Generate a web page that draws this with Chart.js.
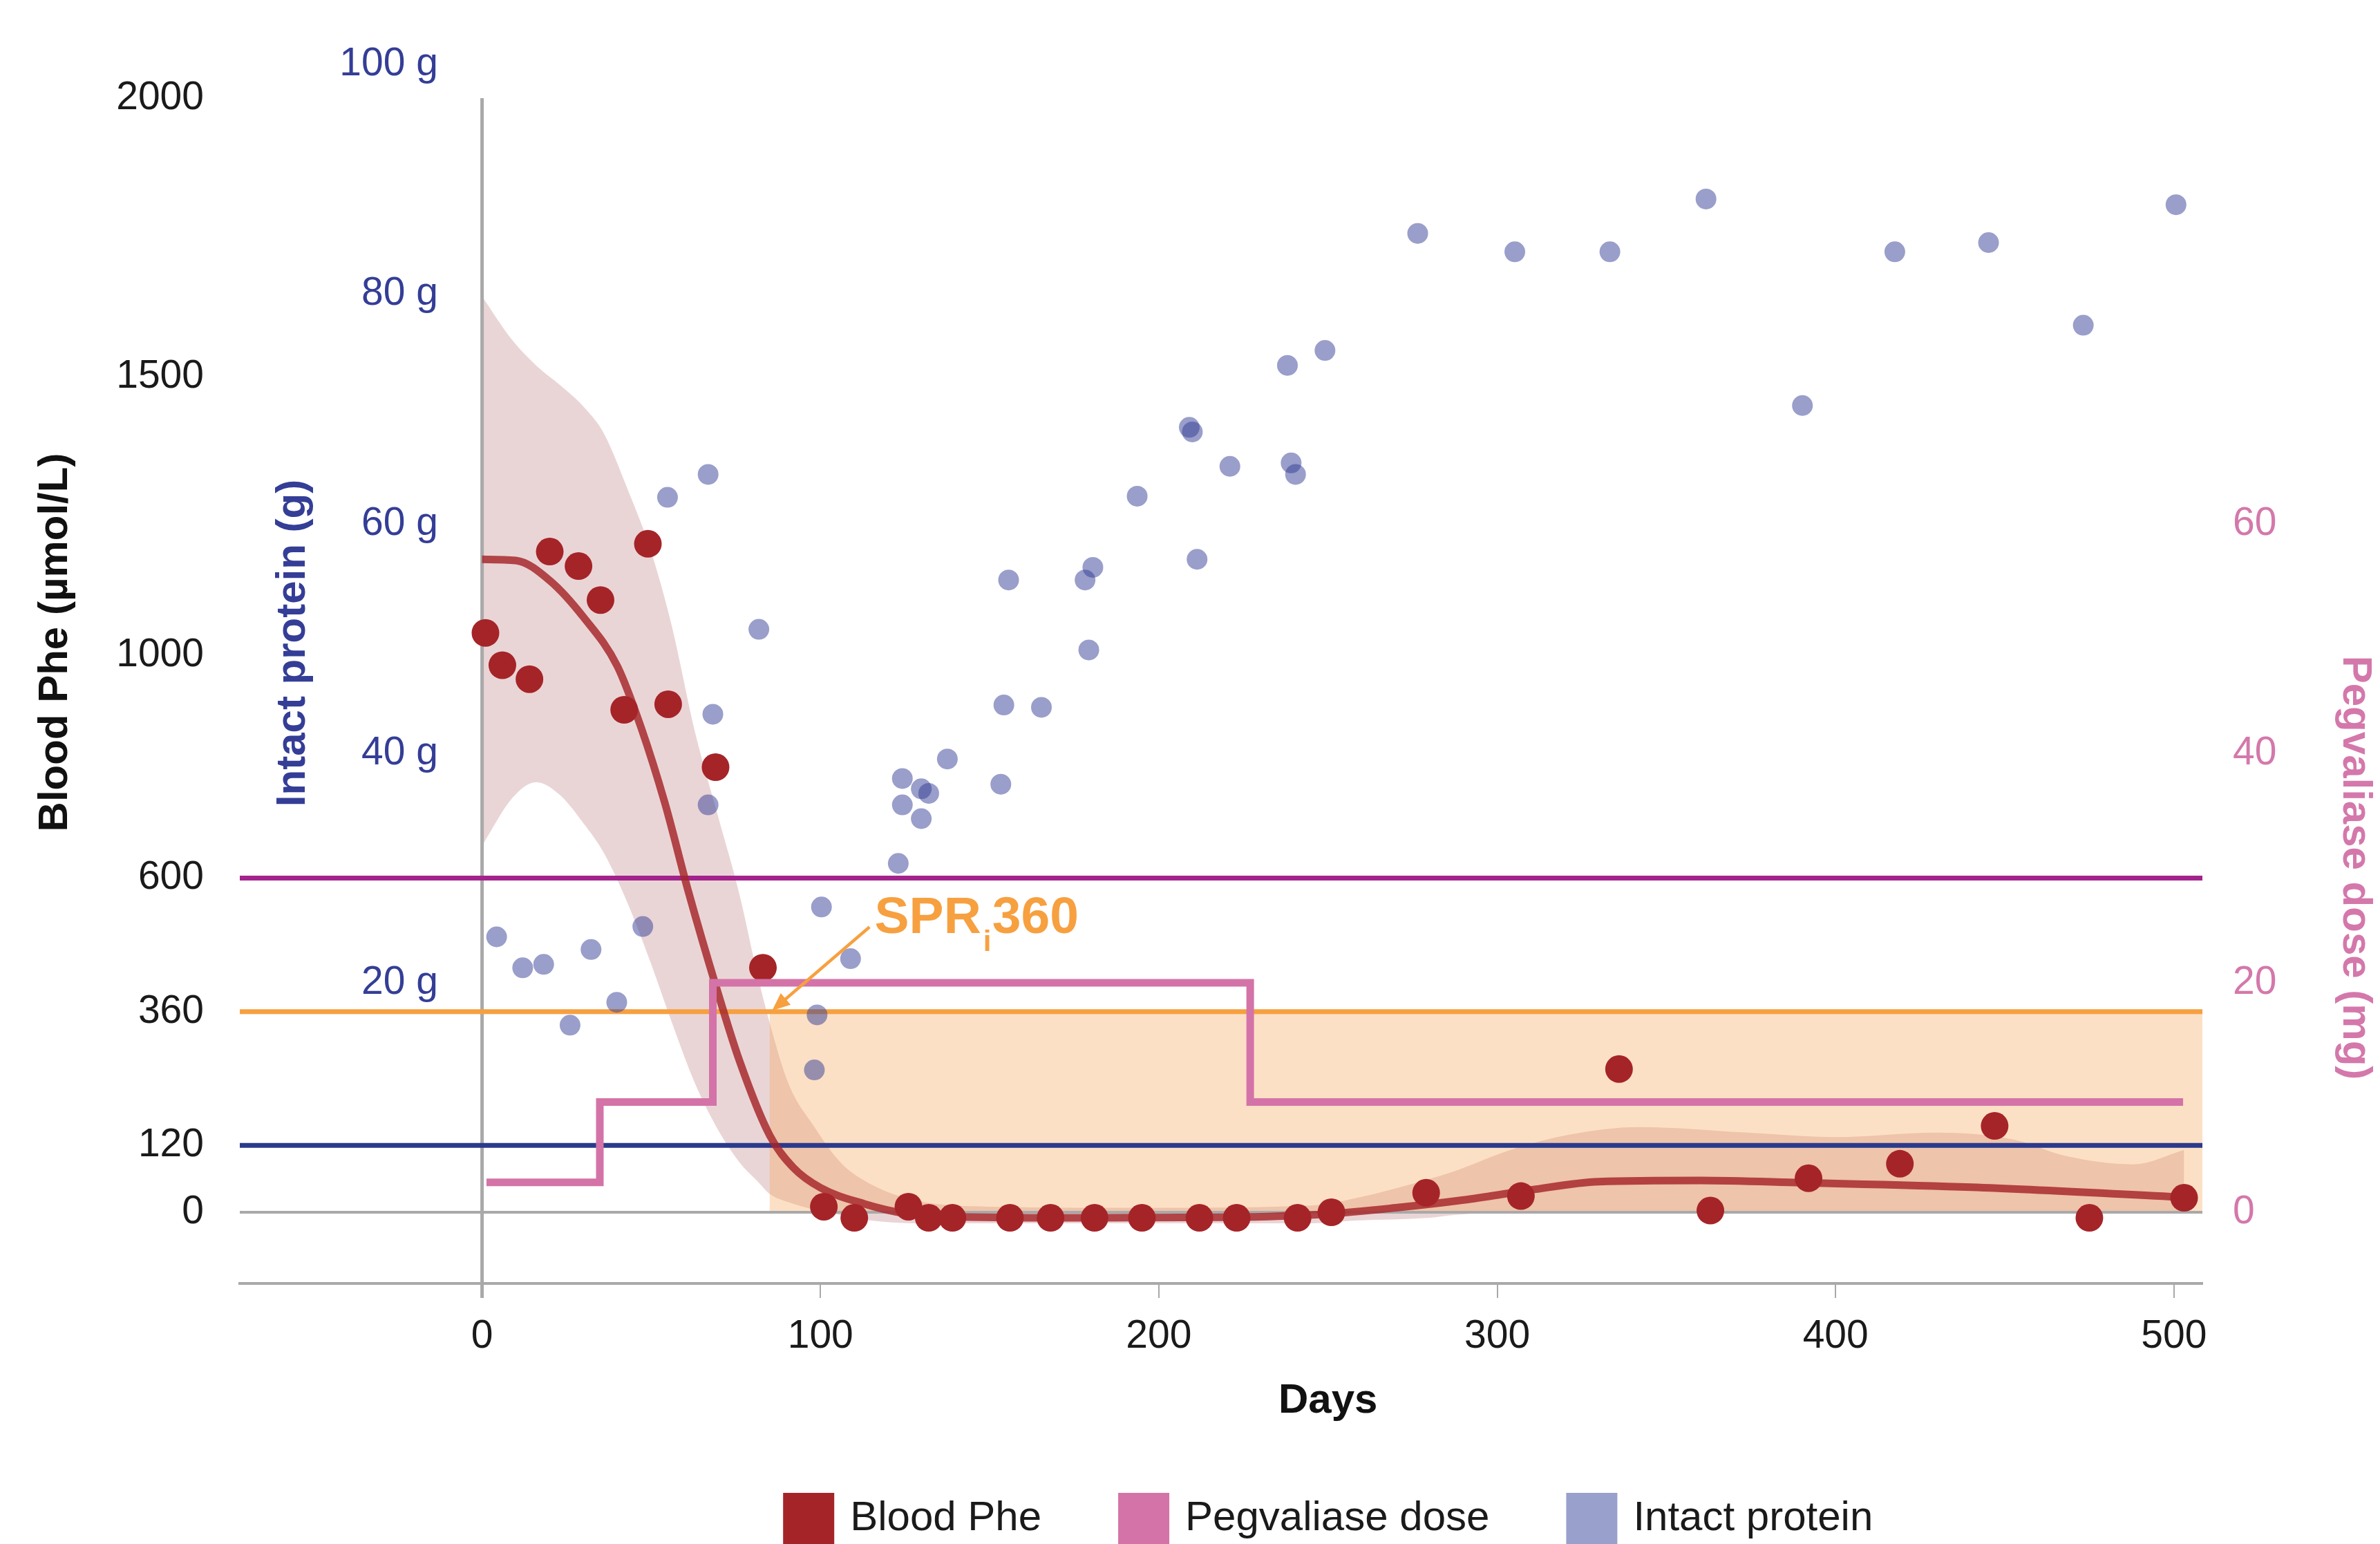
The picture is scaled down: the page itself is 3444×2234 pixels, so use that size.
<!DOCTYPE html>
<html>
<head>
<meta charset="utf-8">
<title>Blood Phe, pegvaliase dose and intact protein</title>
<script src="https://cdn.jsdelivr.net/npm/chart.js@4.4.1/dist/chart.umd.min.js"></script>
<style>
  html, body { margin: 0; padding: 0; background: #fff; }
  canvas { display: block; }
</style>
</head>
<body>
<canvas id="pheChart" width="3444" height="2234"></canvas>
<script>
// Blood Phe measurements (µmol/L)
const pheDays = [1, 6, 14, 20, 28.5, 35, 42, 49, 55, 69, 83, 101, 110, 126, 132, 139, 156, 168, 181, 195, 212, 223, 241, 251, 279, 307, 336, 363, 392, 419, 447, 475, 503];
const pheValues = [1040, 982, 957, 1186, 1160, 1099, 902, 1200, 912, 799, 439, 10, -10, 10, -10, -10, -10, -10, -10, -10, -10, -10, -10, 0, 35, 29, 257, 3, 61, 87, 155, -10, 26];

// fitted Blood Phe trend
const fitDays = [0, 10, 20, 30, 40, 47, 54, 61, 69, 76, 85, 92, 100, 113, 125, 140, 180, 220, 250, 270, 290, 310, 330, 360, 390, 440, 503];
const fitValues = [1172, 1170, 1134, 1068, 980, 870, 735, 575, 408, 273, 138, 80, 44, 15, -2, -8, -10, -9, -3, 8, 22, 40, 55, 57, 53, 45, 27];

// band around the trend
const bandDays = [0, 9, 16, 23, 30, 36, 43, 50, 56, 63, 70, 76, 81.5, 85, 90.6, 98, 106, 115, 129, 150, 200, 245, 258, 280, 287, 304, 321, 342, 374, 400, 430, 453, 468, 488, 503];
const bandUpper = [1644, 1565, 1520, 1485, 1446, 1398, 1298, 1185, 1054, 860, 705, 572, 423, 340, 230, 155, 89, 50, 20, 10, 8, 12, 25, 60, 73, 112, 139, 153, 143, 135, 143, 130, 101, 86, 112];
const bandLower = [658, 744, 772, 749, 698, 645, 555, 445, 342, 230, 145, 90, 55, 33, 18, 5, -5, -15, -20, -20, -20, -20, -15, -10, -5, 0, 0, 0, 0, 0, 0, 0, 0, 0, 0];

// pegvaliase dose (mg), each value holds until the next day
const doseDays = [1.3, 34.8, 68.2, 227, 502.7];
const doseMg = [2.6, 9.6, 20, 9.6, 9.6];

// intact protein intake (g)
const proteinDays = [4.3, 12, 18.2, 26, 32.2, 39.8, 47.5, 54.8, 66.8, 68.2, 66.8, 81.8, 100.3, 99, 98.2, 108.9, 123, 124.2, 124.2, 129.8, 132, 129.8, 137.5, 153.3, 154.2, 155.6, 165.3, 178.2, 180.5, 179.3, 193.6, 209, 209.9, 211.3, 221, 238, 239.1, 240.4, 249.1, 276.5, 305.2, 333.3, 361.7, 390.2, 417.5, 445.2, 473.2, 500.6];
const proteinGrams = [24.0, 21.3, 21.6, 16.3, 22.9, 18.3, 24.9, 62.3, 64.3, 43.4, 35.5, 50.8, 26.6, 17.2, 12.4, 22.1, 30.4, 37.8, 35.5, 36.9, 36.5, 34.3, 39.5, 37.3, 44.2, 55.1, 44.0, 55.1, 56.2, 49.0, 62.4, 68.4, 68.0, 56.9, 65.0, 73.8, 65.3, 64.3, 75.1, 85.3, 83.7, 83.7, 88.3, 70.3, 83.7, 84.5, 77.3, 87.8];

// ticks and reference levels
const dayTicks = [0, 100, 200, 300, 400, 500];
const pheTicks = [0, 120, 360, 600, 1000, 1500, 2000];
const proteinTicks = [20, 40, 60, 80, 100];
const doseTicks = [0, 20, 40, 60];
const thresholds = [600, 360, 120];
const thresholdColors = ['#a3238c', '#f7a040', '#2b3a8c'];
const targetStartDay = 85;
const targetLimit = 360;

const sprLabel = { day: 116, phe: 501 };
const sprArrow = { fromDay: 114.5, fromPhe: 512, toDay: 85.7, toPhe: 362 };

const X_MIN = -71.6, X_MAX = 508.4;
const PHE_MIN = -127.8, PHE_MAX = 2000;
const PHE_PER_GRAM = 20.6; // right scale (g / mg) shares the pixel grid

const FONT = "'Liberation Sans', Arial, Helvetica, sans-serif";
const RED = '#a52428';
const PINK = '#d473a8';
const BLUE = '#343e96';
const ORANGE = '#f7a040';
const GREY = '#a9a9a9';

Chart.defaults.font.family = FONT;
Chart.defaults.color = '#1a1a1a';

const toPoints = (xs, ys) => xs.map((d, i) => ({ x: d, y: ys[i] }));

function vText(ctx, text, cx, cy, angle) {
    ctx.save();
    ctx.translate(cx, cy);
    ctx.rotate(angle);
    ctx.fillText(text, 0, 0);
    ctx.restore();
}

const decorations = {
    id: 'decorations',
    // drawn right after the band so the target box tints it
    afterDatasetDraw(chart, args) {
        if (args.index !== 0) return;
        const { ctx, chartArea: area, scales: { x, y } } = chart;
        const zeroY = y.getPixelForValue(0);
        ctx.save();

        const left = x.getPixelForValue(targetStartDay);
        const top = y.getPixelForValue(targetLimit);
        ctx.fillStyle = 'rgba(246, 162, 78, 0.33)';
        ctx.fillRect(left, top, area.right - left, zeroY - top);

        ctx.strokeStyle = GREY;
        ctx.lineWidth = 4;
        ctx.beginPath();
        ctx.moveTo(area.left, zeroY);
        ctx.lineTo(area.right, zeroY);
        ctx.stroke();

        const x0 = x.getPixelForValue(0);
        ctx.lineWidth = 5;
        ctx.beginPath();
        ctx.moveTo(x0, y.getPixelForValue(PHE_MAX));
        ctx.lineTo(x0, area.bottom + 21);
        ctx.stroke();

        ctx.lineWidth = 7;
        thresholds.forEach((v, i) => {
            const py = y.getPixelForValue(v);
            ctx.strokeStyle = thresholdColors[i];
            ctx.beginPath();
            ctx.moveTo(area.left, py);
            ctx.lineTo(area.right, py);
            ctx.stroke();
        });
        ctx.restore();
    },
    afterDraw(chart) {
        const { ctx, chartArea: area, scales: { x, y, y2 } } = chart;
        const midY = (area.top + area.bottom) / 2;
        ctx.save();

        // axis titles
        ctx.font = `bold 60px ${FONT}`;
        ctx.textAlign = 'center';
        ctx.textBaseline = 'middle';
        ctx.fillStyle = '#111';
        vText(ctx, 'Blood Phe (µmol/L)', area.left - 267, midY - 70, -Math.PI / 2);
        ctx.fillStyle = BLUE;
        vText(ctx, 'Intact protein (g)', area.left + 77, midY - 69, -Math.PI / 2);
        ctx.fillStyle = '#d478ab';
        vText(ctx, 'Pegvaliase dose (mg)', area.right + 221, midY + 256, Math.PI / 2);

        // intact protein labels inside the plot
        ctx.font = `57px ${FONT}`;
        ctx.textAlign = 'right';
        ctx.fillStyle = BLUE;
        proteinTicks.forEach(g => ctx.fillText(g + ' g', area.left + 287, y2.getPixelForValue(g)));

        // x title, centred on the 0-500 day range
        const centreX = x.getPixelForValue(250);
        ctx.font = `bold 60px ${FONT}`;
        ctx.textAlign = 'center';
        ctx.fillStyle = '#111';
        ctx.fillText('Days', centreX, area.bottom + 170);

        // SPRi 360 note with arrow
        const sx = x.getPixelForValue(sprLabel.day);
        const sy = y.getPixelForValue(sprLabel.phe);
        ctx.fillStyle = ORANGE;
        ctx.textAlign = 'left';
        ctx.textBaseline = 'alphabetic';
        ctx.font = `bold 75px ${FONT}`;
        ctx.fillText('SPR', sx, sy);
        const w = ctx.measureText('SPR').width;
        ctx.fillText('360', sx + w + 16, sy);
        ctx.font = `bold 42px ${FONT}`;
        ctx.fillText('i', sx + w + 3, sy + 26);

        const ax0 = x.getPixelForValue(sprArrow.fromDay), ay0 = y.getPixelForValue(sprArrow.fromPhe);
        const ax1 = x.getPixelForValue(sprArrow.toDay), ay1 = y.getPixelForValue(sprArrow.toPhe);
        const ang = Math.atan2(ay1 - ay0, ax1 - ax0);
        const head = 26;
        ctx.strokeStyle = ORANGE;
        ctx.lineWidth = 4.5;
        ctx.beginPath();
        ctx.moveTo(ax0, ay0);
        ctx.lineTo(ax1 - head * 0.8 * Math.cos(ang), ay1 - head * 0.8 * Math.sin(ang));
        ctx.stroke();
        ctx.beginPath();
        ctx.moveTo(ax1, ay1);
        ctx.lineTo(ax1 - head * Math.cos(ang) + 11 * Math.sin(ang), ay1 - head * Math.sin(ang) - 11 * Math.cos(ang));
        ctx.lineTo(ax1 - head * Math.cos(ang) - 11 * Math.sin(ang), ay1 - head * Math.sin(ang) + 11 * Math.cos(ang));
        ctx.closePath();
        ctx.fill();

        // legend
        const items = [
            { text: 'Blood Phe', color: RED },
            { text: 'Pegvaliase dose', color: PINK },
            { text: 'Intact protein', color: '#9aa0cc' }
        ];
        const box = 74, boxGap = 23, itemGap = 111;
        ctx.font = `60px ${FONT}`;
        const widths = items.map(it => box + boxGap + ctx.measureText(it.text).width);
        const total = widths.reduce((a, b) => a + b, 0) + itemGap * (items.length - 1);
        const ly = area.bottom + 340;
        let lx = centreX - total / 2;
        ctx.textBaseline = 'middle';
        items.forEach((it, i) => {
            ctx.fillStyle = it.color;
            ctx.fillRect(lx, ly - box / 2, box, box);
            ctx.fillStyle = '#1a1a1a';
            ctx.fillText(it.text, lx + box + boxGap, ly);
            lx += widths[i] + itemGap;
        });
        ctx.restore();
    }
};

new Chart(document.getElementById('pheChart').getContext('2d'), {
    type: 'line',
    data: {
        datasets: [
            {
                label: 'band upper',
                data: toPoints(bandDays, bandUpper),
                borderWidth: 0,
                pointRadius: 0,
                cubicInterpolationMode: 'monotone',
                backgroundColor: 'rgba(195, 135, 138, 0.35)',
                fill: '+1',
                order: 10
            },
            {
                label: 'band lower',
                data: toPoints(bandDays, bandLower),
                borderWidth: 0,
                pointRadius: 0,
                cubicInterpolationMode: 'monotone',
                fill: false,
                order: 9
            },
            {
                label: 'Blood Phe trend',
                data: toPoints(fitDays, fitValues),
                borderColor: 'rgba(165, 36, 40, 0.82)',
                borderWidth: 11,
                pointRadius: 0,
                cubicInterpolationMode: 'monotone',
                fill: false,
                order: 5
            },
            {
                label: 'Blood Phe',
                data: toPoints(pheDays, pheValues),
                showLine: false,
                pointRadius: 20,
                pointBorderWidth: 0,
                pointBackgroundColor: RED,
                order: 4
            },
            {
                label: 'Pegvaliase dose',
                data: toPoints(doseDays, doseMg),
                yAxisID: 'y2',
                stepped: 'before',
                borderColor: PINK,
                borderWidth: 11,
                pointRadius: 0,
                fill: false,
                order: 3
            },
            {
                label: 'Intact protein',
                data: toPoints(proteinDays, proteinGrams),
                yAxisID: 'y2',
                showLine: false,
                pointRadius: 15,
                pointBorderWidth: 0,
                pointBackgroundColor: 'rgba(52, 62, 150, 0.5)',
                order: 2
            }
        ]
    },
    options: {
        responsive: false,
        animation: false,
        events: [],
        layout: { padding: { top: 142, right: 0, bottom: 0, left: 0 } },
        plugins: {
            legend: { display: false },
            tooltip: { enabled: false }
        },
        scales: {
            x: {
                type: 'linear',
                min: X_MIN,
                max: X_MAX,
                afterBuildTicks: s => { s.ticks = dayTicks.map(v => ({ value: v })); },
                afterFit: s => { s.height = 377; },
                grid: { drawOnChartArea: false, drawTicks: true, tickLength: 21, color: GREY, lineWidth: 2 },
                border: { display: true, color: GREY, width: 4 },
                ticks: { font: { size: 57 }, color: '#1a1a1a', padding: 22, maxRotation: 0, callback: v => String(v) }
            },
            y: {
                position: 'left',
                min: PHE_MIN,
                max: PHE_MAX,
                afterBuildTicks: s => { s.ticks = pheTicks.map(v => ({ value: v })); },
                afterFit: s => { s.width = 347; },
                grid: { display: false, drawTicks: false },
                border: { display: false },
                ticks: { font: { size: 57 }, color: '#1a1a1a', padding: 52, callback: v => String(v) }
            },
            y2: {
                position: 'right',
                min: PHE_MIN / PHE_PER_GRAM,
                max: PHE_MAX / PHE_PER_GRAM,
                afterBuildTicks: s => { s.ticks = doseTicks.map(v => ({ value: v })); },
                afterFit: s => { s.width = 257; },
                grid: { display: false, drawTicks: false },
                border: { display: false },
                ticks: { font: { size: 57 }, color: '#d478ab', padding: 44, callback: v => String(v) }
            }
        }
    },
    plugins: [decorations]
});
</script>
</body>
</html>
